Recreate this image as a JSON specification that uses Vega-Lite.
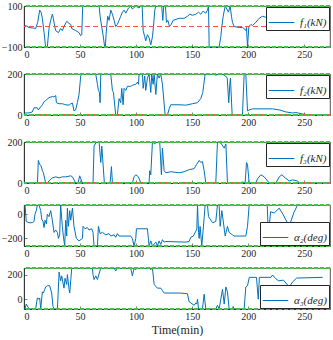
{
  "$schema": "https://vega.github.io/schema/vega-lite/v6.json",
  "padding": {"left": 0, "top": 0, "right": 0, "bottom": 0},
  "background": "white",
  "config": {
    "view": {"stroke": "#262626", "strokeWidth": 0.8},
    "axis": {
      "labelFont": "Liberation Serif", "labelFontSize": 10, "labelColor": "#262626",
      "domainColor": "#262626", "tickColor": "#262626", "domainWidth": 0.8, "tickWidth": 0.6,
      "tickSize": -3, "labelPadding": 5, "grid": false,
      "titleFont": "Liberation Serif", "titleFontSize": 13, "titleFontWeight": "normal", "titleColor": "#262626"
    },
    "legend": {
      "labelFont": "Liberation Serif", "labelFontStyle": "italic", "labelFontSize": 11, "labelColor": "#262626",
      "strokeColor": "#262626", "fillColor": "white", "padding": 2, "offset": 1,
      "symbolType": "stroke", "symbolSize": 650, "symbolStrokeWidth": 1.2, "labelOffset": 5, "cornerRadius": 0
    },
    "concat": {"spacing": 8},
    "line": {"strokeWidth": 1}
  },
  "resolve": {"scale": {"color": "independent"}, "legend": {"color": "independent"}},
  "datasets": {
    "f1": [
      {"t":0,"v":0},{"t":1.5,"v":5},{"t":4.5,"v":-5},{"t":8.9,"v":-8},{"t":10.4,"v":-10},{"t":12.2,"v":20},{"t":14,"v":80},{"t":15.2,"v":70},{"t":16.4,"v":40},{"t":17.9,"v":-30},{"t":19.3,"v":-100},{"t":20.8,"v":-100},{"t":22.3,"v":-10},{"t":23.8,"v":30},{"t":25.3,"v":60},{"t":26.2,"v":40},{"t":27.4,"v":0},{"t":28.3,"v":-20},{"t":30.7,"v":-30},{"t":32.7,"v":-10},{"t":34.2,"v":-20},{"t":35.7,"v":0},{"t":38.1,"v":25},{"t":40.2,"v":15},{"t":41.7,"v":10},{"t":42.6,"v":-10},{"t":46.1,"v":-20},{"t":49.1,"v":-30},{"t":50.6,"v":-45},{"t":51.5,"v":-40},{"t":52.4,"v":100},
      {"t":67,"v":100},{"t":67.9,"v":50},{"t":69.3,"v":0},{"t":70.5,"v":-40},{"t":72,"v":-100},{"t":72.6,"v":-100},{"t":73.2,"v":-40},{"t":73.8,"v":0},{"t":74.7,"v":50},{"t":75.9,"v":30},{"t":77.4,"v":80},{"t":78.9,"v":60},{"t":80.4,"v":30},{"t":81.8,"v":0},{"t":83.3,"v":10},{"t":84.8,"v":30},{"t":86.3,"v":50},{"t":87.8,"v":70},{"t":89.3,"v":80},{"t":90.8,"v":65},{"t":93.2,"v":90},{"t":95.2,"v":100},{"t":96.7,"v":85},{"t":99.7,"v":100},{"t":102.7,"v":90},{"t":104.2,"v":100},{"t":105.4,"v":100},{"t":106.3,"v":-20},{"t":107.7,"v":-50},{"t":108.6,"v":-70},{"t":110.1,"v":-40},{"t":111.6,"v":-55},{"t":113.1,"v":-90},{"t":114.6,"v":-50},{"t":115.5,"v":0},{"t":116.7,"v":80},{"t":117.6,"v":100},
      {"t":122.9,"v":100},{"t":123.8,"v":30},{"t":124.7,"v":100},{"t":126.2,"v":100},{"t":127.1,"v":20},{"t":128.3,"v":30},{"t":129.8,"v":0},{"t":131.3,"v":10},{"t":133,"v":30},{"t":138.4,"v":40},{"t":142.9,"v":40},{"t":145.8,"v":50},{"t":147.9,"v":60},{"t":150.3,"v":55},{"t":153.3,"v":60},{"t":155.7,"v":70},{"t":157.7,"v":60},{"t":159.8,"v":75},{"t":162.2,"v":65},{"t":163.7,"v":80},{"t":164.6,"v":100},{"t":165.2,"v":-100},
      {"t":174.1,"v":-100},{"t":175.6,"v":-50},{"t":176.5,"v":0},{"t":177.7,"v":50},{"t":179.5,"v":100},{"t":181,"v":85},{"t":182.4,"v":70},{"t":183.9,"v":100},{"t":185.1,"v":50},{"t":186,"v":20},{"t":187.5,"v":0},{"t":192,"v":-5},{"t":194.9,"v":-5},{"t":196.4,"v":-10},{"t":197.9,"v":-20},{"t":198.5,"v":-5},{"t":199.4,"v":-100},{"t":200.6,"v":0},{"t":202.4,"v":10},{"t":203.9,"v":5},{"t":206.8,"v":20},{"t":209.8,"v":40},{"t":212.8,"v":50},{"t":215.8,"v":45},{"t":218.8,"v":30},{"t":224.7,"v":20},{"t":230.7,"v":10},{"t":239.6,"v":5},{"t":257.4,"v":0},{"t":267.9,"v":-3}
    ],
    "f2": [
      {"t":0,"v":5},{"t":1.5,"v":10},{"t":4.5,"v":10},{"t":7.4,"v":15},{"t":8.9,"v":35},{"t":11.9,"v":35},{"t":12.8,"v":25},{"t":14.9,"v":40},{"t":16.4,"v":50},{"t":17.9,"v":65},{"t":19.3,"v":70},{"t":22.3,"v":85},{"t":25.3,"v":90},{"t":26.8,"v":88},{"t":28.3,"v":95},{"t":28.9,"v":60},{"t":31.3,"v":55},{"t":34.2,"v":55},{"t":37.2,"v":50},{"t":40.2,"v":48},{"t":41.7,"v":55},{"t":43.2,"v":58},{"t":44.6,"v":20},{"t":46.1,"v":25},{"t":47.6,"v":60},{"t":49.1,"v":100},{"t":50.6,"v":190},{"t":51.5,"v":200},
      {"t":64,"v":200},{"t":65.5,"v":150},{"t":66.4,"v":120},{"t":67.3,"v":110},{"t":67.9,"v":60},{"t":68.5,"v":200},{"t":77.4,"v":200},{"t":78.9,"v":120},{"t":79.8,"v":110},{"t":81.8,"v":0},{"t":83.3,"v":0},{"t":84.8,"v":80},{"t":86.3,"v":60},{"t":87.2,"v":130},{"t":88.4,"v":50},{"t":89.3,"v":130},{"t":90.8,"v":120},{"t":92.3,"v":140},{"t":95.2,"v":140},{"t":96.7,"v":145},{"t":99.7,"v":150},{"t":101.2,"v":160},{"t":102.1,"v":150},{"t":102.7,"v":200},{"t":105.7,"v":200},{"t":106.3,"v":130},{"t":107.7,"v":190},{"t":108.6,"v":120},{"t":110.1,"v":180},{"t":111.6,"v":200},{"t":113.1,"v":110},{"t":114,"v":200},{"t":115.2,"v":150},{"t":116.1,"v":200},{"t":117.6,"v":100},{"t":119,"v":200},{"t":120.5,"v":180},{"t":122,"v":200},{"t":123.5,"v":150},{"t":125.9,"v":0},
      {"t":128,"v":0},{"t":129.5,"v":30},{"t":131,"v":50},{"t":138.4,"v":50},{"t":144.3,"v":48},{"t":150.3,"v":55},{"t":154.8,"v":60},{"t":157.7,"v":80},{"t":159.5,"v":110},{"t":161.6,"v":200},{"t":168,"v":200},{"t":170.9,"v":195},{"t":176.9,"v":200},{"t":179.8,"v":190},{"t":181.3,"v":180},{"t":182.7,"v":60},{"t":183.6,"v":150},{"t":184.2,"v":180},{"t":185.7,"v":0},{"t":194.9,"v":0},{"t":196.4,"v":200},{"t":197.9,"v":200},{"t":199.4,"v":20},{"t":200.9,"v":25},{"t":203.9,"v":30},{"t":221.7,"v":30},{"t":227.7,"v":25},{"t":233.6,"v":15},{"t":239.6,"v":10},{"t":242.6,"v":12},{"t":248.5,"v":5},{"t":254.5,"v":0},{"t":268,"v":0}
    ],
    "f3": [
      {"t":0,"v":5},{"t":1.5,"v":0},{"t":12,"v":0},{"t":12.8,"v":110},{"t":14,"v":90},{"t":15.2,"v":85},{"t":16.4,"v":60},{"t":17.3,"v":50},{"t":19.3,"v":0},{"t":20.8,"v":0},{"t":22.3,"v":10},{"t":25.3,"v":25},{"t":28.3,"v":30},{"t":31.3,"v":25},{"t":34.2,"v":30},{"t":37.2,"v":30},{"t":41.7,"v":35},{"t":43.2,"v":30},{"t":46.1,"v":0},{"t":48.2,"v":0},{"t":49.7,"v":35},{"t":52.1,"v":0},{"t":61.6,"v":0},{"t":62.5,"v":180},{"t":64.6,"v":200},{"t":67,"v":200},{"t":68.5,"v":100},{"t":69.4,"v":180},{"t":71.7,"v":0},{"t":76.8,"v":0},{"t":78,"v":80},{"t":78.9,"v":0},
      {"t":96.7,"v":0},{"t":98.2,"v":30},{"t":99.7,"v":40},{"t":102.1,"v":30},{"t":104.2,"v":0},{"t":111.6,"v":0},{"t":112.2,"v":60},{"t":113.1,"v":40},{"t":114.6,"v":200},{"t":116.7,"v":190},{"t":117.6,"v":200},{"t":121.1,"v":200},{"t":122.6,"v":40},{"t":123.5,"v":170},{"t":125,"v":60},{"t":126.5,"v":50},{"t":131,"v":55},{"t":138.4,"v":50},{"t":142.9,"v":55},{"t":147.3,"v":65},{"t":151.8,"v":70},{"t":153.9,"v":90},{"t":156.3,"v":110},{"t":157.7,"v":100},{"t":159.2,"v":105},{"t":160.7,"v":60},{"t":162.2,"v":0},
      {"t":171.1,"v":0},{"t":172.6,"v":200},{"t":175.6,"v":195},{"t":178.6,"v":170},{"t":180.1,"v":190},{"t":181.5,"v":0},{"t":192,"v":0},{"t":194.9,"v":5},{"t":197.3,"v":0},{"t":198.5,"v":100},{"t":199.4,"v":90},{"t":200.9,"v":0},{"t":206.8,"v":0},{"t":208.3,"v":20},{"t":211.3,"v":40},{"t":214.3,"v":30},{"t":218.8,"v":0},{"t":224.7,"v":0},{"t":227.7,"v":30},{"t":230.1,"v":40},{"t":233,"v":25},{"t":236.6,"v":10},{"t":239.6,"v":15},{"t":244,"v":10},{"t":245.5,"v":0},{"t":268,"v":0}
    ],
    "a2": [
      {"t":0.9,"v":76},{"t":2,"v":-60},{"t":4.5,"v":-70},{"t":7.4,"v":-70},{"t":8.9,"v":-60},{"t":9.8,"v":0},{"t":11,"v":30},{"t":11.9,"v":76},{"t":13.4,"v":76},{"t":14.9,"v":30},{"t":15.8,"v":-40},{"t":17,"v":-60},{"t":17.9,"v":-110},{"t":18.8,"v":-50},{"t":20,"v":-80},{"t":20.8,"v":0},{"t":22.3,"v":-20},{"t":23.8,"v":30},{"t":25.3,"v":-50},{"t":26.8,"v":-150},{"t":28.3,"v":-130},{"t":29.8,"v":-150},{"t":30.7,"v":-200},{"t":31.8,"v":-170},{"t":32.7,"v":76},{"t":34.2,"v":-100},{"t":35.1,"v":-180},{"t":36.3,"v":-262},{"t":37.2,"v":-50},{"t":38.1,"v":-180},{"t":38.7,"v":50},{"t":39.6,"v":-100},{"t":40.8,"v":30},{"t":41.7,"v":-50},{"t":43.2,"v":50},{"t":44.6,"v":-100},{"t":46.7,"v":-200},{"t":49.1,"v":-220},{"t":52.1,"v":-200},{"t":52.7,"v":-100},{"t":54.5,"v":-120},{"t":56.5,"v":-110},{"t":58,"v":-130},{"t":60.4,"v":-120},{"t":61.6,"v":-150},{"t":62.5,"v":-262},{"t":65.5,"v":-262},{"t":66.4,"v":-100},{"t":67.9,"v":-160},{"t":70,"v":-150},{"t":73,"v":-170},{"t":75.9,"v":-160},{"t":77.4,"v":-180},{"t":80.4,"v":-170},{"t":81.8,"v":-190},{"t":83.3,"v":-160},{"t":84.8,"v":-180},{"t":95.2,"v":-180},{"t":96.7,"v":-200},{"t":98.2,"v":-262},{"t":99.7,"v":-200},{"t":100.3,"v":-120},
      {"t":110.1,"v":-120},{"t":111,"v":-200},{"t":111.6,"v":-262},{"t":113.1,"v":-220},{"t":114.6,"v":-262},{"t":117.6,"v":-230},{"t":119,"v":-262},{"t":120.5,"v":-220},{"t":122,"v":-250},{"t":123.5,"v":-210},{"t":125,"v":-230},{"t":126.5,"v":-225},{"t":144.3,"v":-230},{"t":147.3,"v":-225},{"t":148.8,"v":-190},{"t":151,"v":-180},{"t":153.3,"v":-140},{"t":154.2,"v":-120},{"t":154.8,"v":76},{"t":155.7,"v":-150},{"t":156.3,"v":-200},{"t":157.1,"v":-100},{"t":158.6,"v":-262},{"t":160.7,"v":-30},{"t":161.6,"v":76},{"t":163.7,"v":76},{"t":164.6,"v":-20},{"t":168.2,"v":-70},{"t":171.1,"v":-60},{"t":172.6,"v":76},{"t":174.1,"v":76},{"t":175,"v":-100},{"t":176.5,"v":30},{"t":179.5,"v":-180},{"t":181.5,"v":-100},{"t":183,"v":-150},{"t":186,"v":-170},{"t":187.5,"v":-180},{"t":197.9,"v":-180},{"t":199.4,"v":-100},{"t":200.9,"v":76},{"t":217,"v":76},{"t":218,"v":-175},{"t":220,"v":20},{"t":223.2,"v":10},{"t":227.7,"v":50},{"t":231,"v":0},{"t":236.6,"v":-100},{"t":240.6,"v":10},{"t":244,"v":76},{"t":268,"v":76}
    ],
    "a3": [
      {"t":0,"v":-80},{"t":0.9,"v":-80},{"t":2,"v":-40},{"t":3.9,"v":-70},{"t":5.1,"v":-80},{"t":10.4,"v":-80},{"t":11.9,"v":10},{"t":13.4,"v":0},{"t":14,"v":10},{"t":14.9,"v":-80},{"t":16.4,"v":60},{"t":17.3,"v":50},{"t":18.5,"v":80},{"t":19.3,"v":100},{"t":20.8,"v":110},{"t":22.9,"v":110},{"t":24.7,"v":50},{"t":25.9,"v":-60},{"t":26.8,"v":-80},{"t":29.8,"v":-80},{"t":31.3,"v":220},{"t":32.7,"v":150},{"t":33.6,"v":190},{"t":35.7,"v":90},{"t":36.6,"v":170},{"t":38.1,"v":120},{"t":38.7,"v":200},{"t":40.2,"v":80},{"t":40.8,"v":50},{"t":42.6,"v":254},{"t":61,"v":254},{"t":61.6,"v":200},{"t":62.5,"v":160},{"t":64,"v":190},{"t":65.5,"v":160},{"t":68.5,"v":254},{"t":80.4,"v":254},{"t":81.8,"v":230},{"t":83.3,"v":250},{"t":84.8,"v":254},{"t":95.2,"v":254},{"t":96.7,"v":190},{"t":98.2,"v":250},{"t":99.7,"v":240},{"t":101.2,"v":254},{"t":111.6,"v":254},{"t":113.1,"v":240},{"t":114.6,"v":254},{"t":116.1,"v":120},{"t":119,"v":90},{"t":122,"v":90},{"t":123.5,"v":70},{"t":125,"v":50},{"t":138.4,"v":50},{"t":145.8,"v":45},{"t":147.3,"v":-20},{"t":151.8,"v":-50},{"t":153.3,"v":-30},{"t":154.2,"v":-40},{"t":154.8,"v":0},{"t":155.7,"v":-80},{"t":159.2,"v":-80},{"t":160.7,"v":40},{"t":162.2,"v":-80},{"t":171.1,"v":-80},{"t":172.6,"v":-50},{"t":174.1,"v":-80},{"t":177.1,"v":80},{"t":178.6,"v":-40},{"t":180.1,"v":100},{"t":181.5,"v":60},{"t":183,"v":-80},{"t":186,"v":-80},{"t":186.6,"v":-60},{"t":187.5,"v":-80},{"t":196.4,"v":-80},{"t":197.9,"v":100},{"t":199.4,"v":110},{"t":201,"v":178},{"t":207.4,"v":178},{"t":209,"v":0},{"t":210,"v":178},{"t":220.3,"v":178},{"t":221.7,"v":197},{"t":224.5,"v":168},{"t":227,"v":150},{"t":231.5,"v":155},{"t":236.6,"v":100},{"t":239.6,"v":140},{"t":243.2,"v":172},{"t":266.4,"v":178}
    ]
  },
  "vconcat": [
    {
      "width": 306, "height": 41,
      "data": {"name": "f1"},
      "layer": [
        {"mark": {"type": "line", "clip": true, "color": "#0072BD"},
         "encoding": {
           "x": {"field": "t", "type": "quantitative", "scale": {"domain": [0, 273], "nice": false}, "axis": {"values": [0,50,100,150,200,250], "title": null}},
           "y": {"field": "v", "type": "quantitative", "scale": {"domain": [-100, 100], "nice": false}, "axis": {"values": [-100,0,100], "title": null}},
           "color": {"datum": "f₁(kN)", "scale": {"range": ["#0072BD"]}, "legend": {"orient": "top-right", "title": null}}
         }},
        {"mark": {"type": "rule", "color": "#ff5050", "strokeDash": [5, 3], "strokeWidth": 1}, "encoding": {"y": {"datum": 0}}},
        {"mark": {"type": "rule", "color": "#3cc83c", "strokeDash": [4, 2], "strokeWidth": 1.2}, "encoding": {"y": {"datum": 100}}},
        {"mark": {"type": "rule", "color": "#3cc83c", "strokeDash": [4, 2], "strokeWidth": 1.2}, "encoding": {"y": {"datum": -100}}}
      ]
    },
    {
      "width": 306, "height": 41,
      "data": {"name": "f2"},
      "layer": [
        {"mark": {"type": "line", "clip": true, "color": "#0072BD"},
         "encoding": {
           "x": {"field": "t", "type": "quantitative", "scale": {"domain": [0, 273], "nice": false}, "axis": {"values": [0,50,100,150,200,250], "title": null}},
           "y": {"field": "v", "type": "quantitative", "scale": {"domain": [0, 200], "nice": false}, "axis": {"values": [0,100,200], "title": null}},
           "color": {"datum": "f₂(kN)", "scale": {"range": ["#0072BD"]}, "legend": {"orient": "top-right", "title": null}}
         }},
        {"mark": {"type": "rule", "color": "#ff5050", "strokeDash": [5, 3], "strokeWidth": 1}, "encoding": {"y": {"datum": 0}}},
        {"mark": {"type": "rule", "color": "#3cc83c", "strokeDash": [4, 2], "strokeWidth": 1.2}, "encoding": {"y": {"datum": 200}}},
        {"mark": {"type": "rule", "color": "#3cc83c", "strokeDash": [4, 2], "strokeWidth": 1.2, "strokeDashOffset": 3}, "encoding": {"y": {"datum": 0}}}
      ]
    },
    {
      "width": 306, "height": 41,
      "data": {"name": "f3"},
      "layer": [
        {"mark": {"type": "line", "clip": true, "color": "#0072BD"},
         "encoding": {
           "x": {"field": "t", "type": "quantitative", "scale": {"domain": [0, 273], "nice": false}, "axis": {"values": [0,50,100,150,200,250], "title": null}},
           "y": {"field": "v", "type": "quantitative", "scale": {"domain": [0, 200], "nice": false}, "axis": {"values": [0,100,200], "title": null}},
           "color": {"datum": "f₃(kN)", "scale": {"range": ["#0072BD"]}, "legend": {"orient": "top-right", "title": null}}
         }},
        {"mark": {"type": "rule", "color": "#ff5050", "strokeDash": [5, 3], "strokeWidth": 1}, "encoding": {"y": {"datum": 0}}},
        {"mark": {"type": "rule", "color": "#3cc83c", "strokeDash": [4, 2], "strokeWidth": 1.2}, "encoding": {"y": {"datum": 200}}},
        {"mark": {"type": "rule", "color": "#3cc83c", "strokeDash": [4, 2], "strokeWidth": 1.2, "strokeDashOffset": 3}, "encoding": {"y": {"datum": 0}}}
      ]
    },
    {
      "width": 306, "height": 41,
      "data": {"name": "a2"},
      "layer": [
        {"mark": {"type": "line", "clip": true, "color": "#0072BD"},
         "encoding": {
           "x": {"field": "t", "type": "quantitative", "scale": {"domain": [0, 273], "nice": false}, "axis": {"values": [0,50,100,150,200,250], "title": null}},
           "y": {"field": "v", "type": "quantitative", "scale": {"domain": [-262, 76], "nice": false}, "axis": {"values": [-200,-100,0], "title": null}},
           "color": {"datum": "α₂(deg)", "scale": {"range": ["#0072BD"]}, "legend": {"orient": "bottom-right", "title": null}}
         }},
        {"mark": {"type": "rule", "color": "#3cc83c", "strokeDash": [4, 2], "strokeWidth": 1.2}, "encoding": {"y": {"datum": 76}}},
        {"mark": {"type": "rule", "color": "#3cc83c", "strokeDash": [4, 2], "strokeWidth": 1.2}, "encoding": {"y": {"datum": -262}}}
      ]
    },
    {
      "width": 306, "height": 41,
      "data": {"name": "a3"},
      "layer": [
        {"mark": {"type": "line", "clip": true, "color": "#0072BD"},
         "encoding": {
           "x": {"field": "t", "type": "quantitative", "scale": {"domain": [0, 273], "nice": false}, "axis": {"values": [0,50,100,150,200,250], "title": "Time(min)", "titlePadding": 3, "titleFontSize": 12}},
           "y": {"field": "v", "type": "quantitative", "scale": {"domain": [-80, 254], "nice": false}, "axis": {"values": [0,100,200], "title": null}},
           "color": {"datum": "α₃(deg)", "scale": {"range": ["#0072BD"]}, "legend": {"orient": "bottom-right", "title": null}}
         }},
        {"mark": {"type": "rule", "color": "#3cc83c", "strokeDash": [4, 2], "strokeWidth": 1.2}, "encoding": {"y": {"datum": 254}}},
        {"mark": {"type": "rule", "color": "#3cc83c", "strokeDash": [4, 2], "strokeWidth": 1.2}, "encoding": {"y": {"datum": -80}}}
      ]
    }
  ]
}
